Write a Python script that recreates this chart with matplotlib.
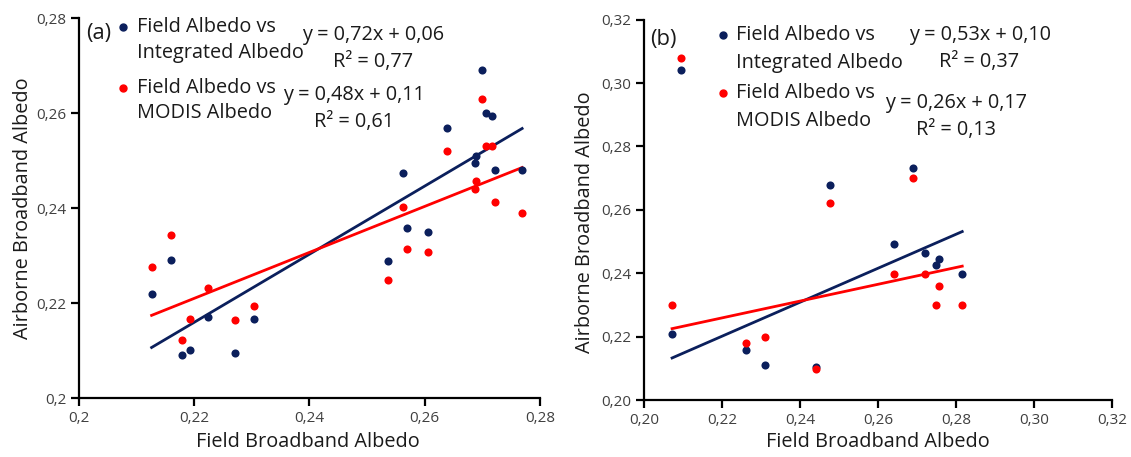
import numpy as np
import matplotlib
matplotlib.use("Agg")
import matplotlib.pyplot as plt
from matplotlib.ticker import FuncFormatter

plt.rcParams['font.family'] = ['Open Sans', 'DejaVu Sans']

# ---- data: panel (a)
field_a = [0.2126, 0.2159, 0.2178, 0.2192, 0.2224, 0.2271, 0.2304,
           0.2537, 0.2563, 0.2570, 0.2606, 0.2638, 0.2688, 0.2689,
           0.2700, 0.2707, 0.2716, 0.2722, 0.2769]
integrated_a = [0.2218, 0.2290, 0.2090, 0.2102, 0.2170, 0.2094, 0.2166,
                0.2288, 0.2473, 0.2357, 0.2350, 0.2569, 0.2495, 0.2510,
                0.2691, 0.2600, 0.2594, 0.2480, 0.2480]
modis_a = [0.2276, 0.2343, 0.2123, 0.2167, 0.2231, 0.2164, 0.2193,
           0.2249, 0.2403, 0.2313, 0.2308, 0.2521, 0.2440, 0.2457,
           0.2629, 0.2530, 0.2531, 0.2412, 0.2389]
# trendline (slope, intercept) as drawn in panel (a): integrated, MODIS
trend_a = [(0.717, 0.0582), (0.484, 0.1145)]

# ---- data: panel (b)
field_b = [0.2072, 0.2096, 0.2261, 0.2309, 0.2440, 0.2476,
           0.2641, 0.2689, 0.2721, 0.2749, 0.2757, 0.2816]
integrated_b = [0.2208, 0.3042, 0.2157, 0.2111, 0.2105, 0.2678,
                0.2493, 0.2731, 0.2463, 0.2426, 0.2445, 0.2398]
modis_b = [0.2300, 0.3078, 0.2179, 0.2198, 0.2099, 0.2620,
           0.2398, 0.2699, 0.2398, 0.2300, 0.2359, 0.2300]
trend_b = [(0.536, 0.1022), (0.265, 0.1676)]

eq_a = ["y = 0,72x + 0,06", "R² = 0,77", "y = 0,48x + 0,11", "R² = 0,61"]
eq_b = ["y = 0,53x + 0,10", "R² = 0,37", "y = 0,26x + 0,17", "R² = 0,13"]
legend_lines = [["Field Albedo vs", "Integrated Albedo"], ["Field Albedo vs", "MODIS Albedo"]]
xlabel = "Field Broadband Albedo"
ylabel = "Airborne Broadband Albedo"

NAVY = "#0b1f5c"
RED = "#ff0000"
TXT = "#1a1a1a"

W, H = 1131, 457
fig = plt.figure(figsize=(W / 100, H / 100), dpi=100)


def fx(x):
    return x / W


def fy(y):
    return 1 - y / H


def ax_at(x0, y0, x1, y1):
    return fig.add_axes([fx(x0), fy(y1), fx(x1) - fx(x0), fy(y0) - fy(y1)])


def style(ax, fmt):
    for s in ['top', 'right']:
        ax.spines[s].set_visible(False)
    for s in ['left', 'bottom']:
        ax.spines[s].set_linewidth(1.6)
        ax.spines[s].set_color('black')
    ax.tick_params(direction='out', length=6, width=1.6, labelsize=11,
                   colors='black', labelcolor='#404040', pad=3)
    ax.xaxis.set_major_formatter(FuncFormatter(fmt))
    ax.yaxis.set_major_formatter(FuncFormatter(fmt))


def fmt_a(v, pos):
    s = f"{v:.2f}".rstrip('0')
    return s.replace('.', ',')


def fmt_b(v, pos):
    return f"{v:.2f}".replace('.', ',')


def draw(ax, field, integ, modis, trends):
    field = np.array(field)
    xs = np.array([field.min(), field.max()])
    for (m, b), c in zip(trends, [NAVY, RED]):
        ax.plot(xs, m * xs + b, color=c, lw=2.0, zorder=2)
    ax.scatter(field, integ, s=34, color=NAVY, zorder=3, linewidths=0)
    ax.scatter(field, modis, s=34, color=RED, zorder=4, linewidths=0)


# panel (a)
ax1 = ax_at(79, 18, 540, 398)
draw(ax1, field_a, integrated_a, modis_a, trend_a)
ax1.set_xlim(0.2, 0.28)
ax1.set_ylim(0.2, 0.28)
ax1.set_xticks(np.arange(0.2, 0.2801, 0.02))
ax1.set_yticks(np.arange(0.2, 0.2801, 0.02))
style(ax1, fmt_a)

# panel (b)
ax2 = ax_at(644, 19.6, 1112, 400)
draw(ax2, field_b, integrated_b, modis_b, trend_b)
ax2.set_xlim(0.2, 0.32)
ax2.set_ylim(0.2, 0.32)
ax2.set_xticks(np.arange(0.2, 0.3201, 0.02))
ax2.set_yticks(np.arange(0.2, 0.3201, 0.02))
style(ax2, fmt_b)

FS = 14.3

# axis labels
fig.text(fx(308), fy(442), xlabel, ha='center', va='center', fontsize=FS, color=TXT)
fig.text(fx(878), fy(442), xlabel, ha='center', va='center', fontsize=FS, color=TXT)
fig.text(fx(23), fy(208), ylabel, ha='center', va='center', fontsize=FS, color=TXT, rotation=90)
fig.text(fx(585), fy(222), ylabel, ha='center', va='center', fontsize=FS, color=TXT, rotation=90)

# panel letters
fig.text(fx(99), fy(34), "(a)", ha='center', va='center', fontsize=FS + 1.5, color=TXT)
fig.text(fx(663), fy(39), "(b)", ha='center', va='center', fontsize=FS + 1.5, color=TXT)


# legends
def legend(xb, xt, ys):
    for i, c in enumerate([NAVY, RED]):
        fig.add_artist(plt.Line2D([fx(xb)], [fy(ys[2 * i])], marker='o', ms=5,
                                  color=c, lw=0))
        for j in range(2):
            fig.text(fx(xt), fy(ys[2 * i + j]), legend_lines[i][j], ha='left',
                     va='center', fontsize=FS, color=TXT)


legend(123, 137, [27, 53, 88, 113])
legend(723, 736, [35, 63, 93, 121])

# equations
for (x, y), t in zip([(373, 35), (373, 62), (354, 95), (354, 122)], eq_a):
    fig.text(fx(x), fy(y), t, ha='center', va='center', fontsize=FS, color=TXT)
for (x, y), t in zip([(980, 35), (979, 62), (956, 103), (956, 130)], eq_b):
    fig.text(fx(x), fy(y), t, ha='center', va='center', fontsize=FS, color=TXT)

fig.savefig("out.png", dpi=100)
